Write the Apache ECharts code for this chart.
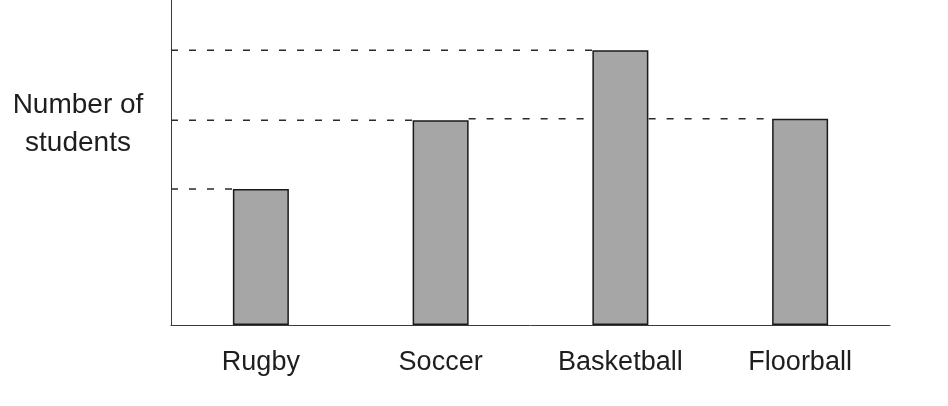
<!DOCTYPE HTML>
<html>
    <head>
        <meta charset="UTF-8">
        <title>Number of students</title>
        <style>
            html,body{margin:0;width:100%;height:100%;background:#fff;}
            #wrap{width:948px;height:406px;}
        </style>
    </head>
    <body>
        <div id="wrap"></div>

        <script src="https://cdn.jsdelivr.net/npm/echarts@6/dist/echarts.min.js"></script>
        <script>
            // data (no scale printed, relative heights)
            let sports = ['Rugby', 'Soccer', 'Basketball', 'Floorball'];
            let students = [19.8, 29.8, 40, 30.0];
            let yTitle = 'Number of\nstudents';

            const BAR_W = 56;
            const FONT = '"Liberation Sans", Arial, sans-serif';

            // guide line for each bar: from the axis, or from the right edge of an
            // earlier bar of (nearly) the same height
            let guides = students.map(function (v, i) {
                let from = -1;
                for (let j = 0; j < i; j++) {
                    if (Math.abs(students[j] - v) / v < 0.03) { from = j; break; }
                }
                return [i, v, from];
            });

            let wrap = document.getElementById('wrap');
            let mycharts = echarts.init(wrap);

            let options = {
                backgroundColor: '#fff',
                animation: false,
                grid: {left: 171, right: 58, top: 0, bottom: 81},
                xAxis: {
                    type: 'category',
                    data: sports,
                    axisLine: {lineStyle: {color: '#3a3a3a', width: 1}},
                    axisTick: {show: false},
                    axisLabel: {
                        fontSize: 27,
                        fontFamily: FONT,
                        color: '#1e1e1e',
                        margin: 24
                    }
                },
                yAxis: {
                    type: 'value',
                    min: 0,
                    max: 47.3,
                    axisLine: {show: true, lineStyle: {color: '#3a3a3a', width: 1}},
                    axisTick: {show: false},
                    axisLabel: {show: false},
                    splitLine: {show: false}
                },
                graphic: [{
                    type: 'text',
                    x: 78,
                    y: 124,
                    style: {
                        text: yTitle,
                        font: '28px ' + FONT,
                        fill: '#1e1e1e',
                        align: 'center',
                        verticalAlign: 'middle',
                        lineHeight: 38
                    }
                }],
                series: [
                    {
                        type: 'custom',
                        z: 1,
                        clip: false,
                        data: guides,
                        renderItem: function (params, api) {
                            let top = api.coord([api.value(0), api.value(1)]);
                            let x1 = top[0] - BAR_W / 2;
                            let x0 = params.coordSys.x;
                            if (api.value(2) >= 0) {
                                x0 = api.coord([api.value(2), 0])[0] + BAR_W / 2;
                            }
                            return {
                                type: 'line',
                                shape: {x1: x0, y1: top[1], x2: x1, y2: top[1]},
                                style: {stroke: '#2a2a2a', lineWidth: 1.5, lineDash: [7, 11]}
                            };
                        }
                    },
                    {
                        type: 'bar',
                        z: 3,
                        data: students,
                        barWidth: BAR_W,
                        itemStyle: {
                            color: '#a6a6a6',
                            borderColor: '#1a1a1a',
                            borderWidth: 1.5
                        }
                    }
                ]
            };

            mycharts.setOption(options);
        </script>
    </body>
</html>
